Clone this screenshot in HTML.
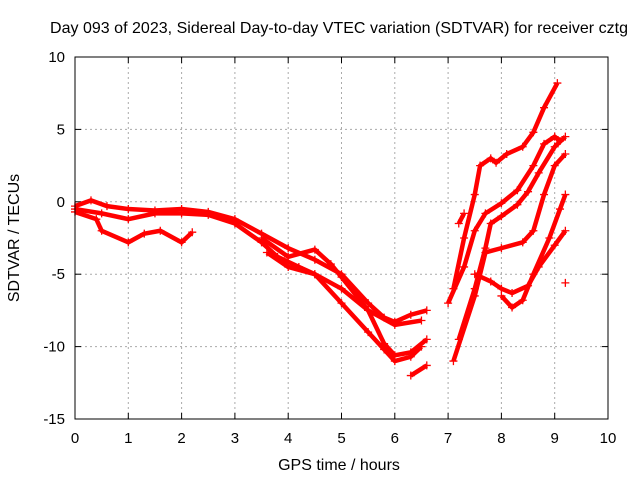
<!DOCTYPE html>
<html><head><meta charset="utf-8"><style>
body{margin:0;background:#fff}
svg{display:block;font-family:"Liberation Sans",sans-serif}
</style></head><body>
<svg id="c" width="640" height="480">
<text x="339" y="33" font-size="16" text-anchor="middle" textLength="578">Day 093 of 2023, Sidereal Day-to-day VTEC variation (SDTVAR) for receiver cztg</text>
<text x="339" y="470" font-size="16" text-anchor="middle">GPS time / hours</text>
<text transform="translate(19,238) rotate(-90)" font-size="16" text-anchor="middle">SDTVAR / TECUs</text>
<g id="grid"></g><g id="ticks"></g><g id="marks"></g>
<rect x="75" y="57" width="533" height="362" fill="none" stroke="#000"/>
</svg>
<script>
const xTicks=[0,1,2,3,4,5,6,7,8,9,10];
const yTicks=[10,5,0,-5,-10,-15];
const trackA=[[0,-0.3],[0.3,0.1],[0.6,-0.3],[1,-0.5],[1.5,-0.6],[2,-0.5],[2.5,-0.7],[3,-1.2],[3.5,-2.2],[4,-3.2],[4.5,-4],[5,-5],[5.5,-7],[5.8,-8],[6,-8.3],[6.3,-7.8],[6.6,-7.5]];
const trackB=[[0,-0.7],[0.4,-1.2],[0.5,-2],[1,-2.8],[1.3,-2.2],[1.6,-2],[2,-2.8],[2.2,-2.1]];
const trackC=[[0,-0.5],[0.5,-0.8],[1,-1.2],[1.5,-0.8],[2,-0.8],[2.5,-0.9],[3,-1.5],[3.5,-2.8],[3.8,-3.8],[4.2,-4.5],[4.5,-5],[5,-6],[5.5,-7.5],[6,-8.5],[6.5,-8.2]];
const trackD=[[3.5,-2.5],[4,-3.8],[4.5,-3.3],[4.8,-4.3],[5,-5.2],[5.5,-7.5],[5.8,-9.8],[6,-10.6],[6.3,-10.4],[6.6,-9.5]];
const trackE=[[3.6,-3.5],[4,-4.5],[4.5,-5],[5,-7],[5.5,-9],[5.8,-10.2],[6,-11],[6.3,-10.7],[6.5,-10]];
const trackF=[[6.3,-12],[6.6,-11.3]];
const trackG=[[7.1,-6],[7.3,-2.5],[7.5,0.5],[7.6,2.5],[7.8,3],[7.9,2.7],[8.1,3.3],[8.4,3.8],[8.6,4.8],[8.8,6.5],[9.05,8.2]];
const trackH=[[7,-7],[7.3,-4.5],[7.5,-2],[7.7,-0.8],[8,-0.1],[8.3,0.8],[8.6,2.5],[8.8,4],[9,4.5],[9.1,4.2]];
const trackI=[[7.1,-11],[7.5,-6.5],[7.7,-3.5],[8,-3.2],[8.4,-2.8],[8.6,-2],[8.8,0.5],[9,2.5],[9.2,3.3]];
const trackJ=[[7.2,-9.5],[7.5,-6],[7.7,-3.2],[7.8,-1.5],[8,-1],[8.3,-0.2],[8.5,0.7],[8.7,2],[9,3.8],[9.2,4.5]];
const trackK=[[7.5,-5],[7.8,-5.5],[8,-6],[8.2,-6.3],[8.5,-5.8],[8.7,-4.5],[9,-3],[9.2,-2]];
const trackL=[[8,-6.5],[8.2,-7.3],[8.4,-6.8],[8.6,-5],[8.9,-2.5],[9.1,-0.5],[9.2,0.5]];
const trackM=[[7.2,-1.5],[7.3,-0.8]];
const trackN=[[9.2,-5.6]];
const tracks=[trackA,trackB,trackC,trackD,trackE,trackF,trackG,trackH,trackI,trackJ,trackK,trackL,trackM,trackN];
const NS="http://www.w3.org/2000/svg";
const X0=75,X1=608,Y0=419,Y1=57;
const sx=v=>X0+(v-0)/(10-0)*(X1-X0);
const sy=v=>Y0-(v+15)/(25)*(Y0-Y1);
function mk(t,a,p){const e=document.createElementNS(NS,t);for(const k in a)e.setAttribute(k,a[k]);p.appendChild(e);return e;}
const g=document.getElementById('grid'),tk=document.getElementById('ticks'),m=document.getElementById('marks');
xTicks.forEach(v=>{const x=sx(v);
 if(v>0&&v<10){const l=mk('line',{x1:x,x2:x,y1:Y1,y2:Y0,stroke:'#aaa','stroke-dasharray':'2,3'},g);
 
 }
 const t=mk('text',{x:x,y:Y0+24,'font-size':15,'text-anchor':'middle'},tk);t.textContent=v;
 
 
 mk('line',{x1:x,x2:x,y1:Y0,y2:Y0-6,stroke:'#000'},tk);mk('line',{x1:x,x2:x,y1:Y1,y2:Y1+6,stroke:'#000'},tk);
});
yTicks.forEach(v=>{const y=sy(v);
 if(v<10&&v>-15){const l=mk('line',{x1:X0,x2:X1,y1:y,y2:y,stroke:'#aaa','stroke-dasharray':'2,3'},g);
 
 }
 const t=mk('text',{x:X0-10,y:y+5,'font-size':15,'text-anchor':'end'},tk);t.textContent=v;
 
 
 mk('line',{x1:X0,x2:X0+6,y1:y,y2:y,stroke:'#000'},tk);mk('line',{x1:X1,x2:X1-6,y1:y,y2:y,stroke:'#000'},tk);
});
tracks.forEach((tr,i)=>{
 const grp=mk('g',{},m);
 
 
 if(tr.length>1){mk('polyline',{points:tr.map(p=>sx(p[0])+','+sy(p[1])).join(' '),fill:'none',stroke:'#f00','stroke-width':4.5,'stroke-linejoin':'round'},grp);}
 tr.forEach(p=>{const x=sx(p[0]),y=sy(p[1]);
  mk('path',{d:`M${x-4},${y}H${x+4}M${x},${y-4}V${y+4}`,stroke:'#f00','stroke-width':1.3},grp);});
});
</script>
</body></html>
